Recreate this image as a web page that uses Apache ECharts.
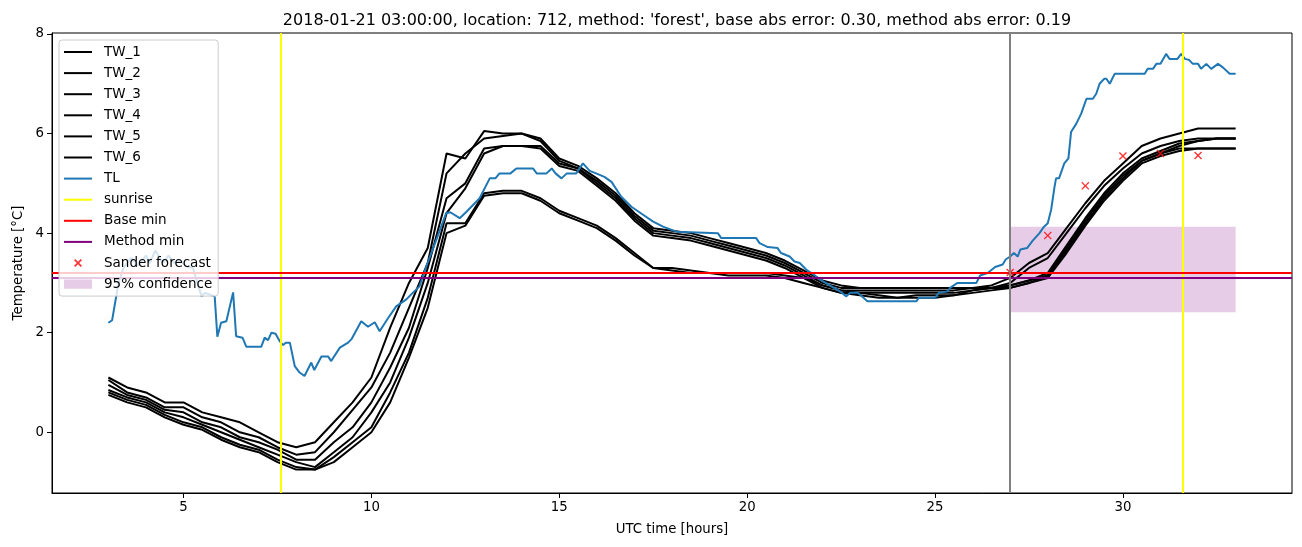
<!DOCTYPE html>
<html>
<head>
<meta charset="utf-8">
<script src="https://cdn.jsdelivr.net/npm/echarts@6/dist/echarts.min.js"></script>
<style>
html,body{margin:0;padding:0;background:#fff}
#container{width:1302px;height:547px}
</style>
</head>
<body>
<div id="container"></div>
<script>
// half-hourly TW values, 03:00 .. 33:00
var twHours = [];
for (var i = 0; i <= 60; i++) twHours.push(3 + i * 0.5);

var tw1 = [1.1,0.9,0.8,0.6,0.6,0.4,0.3,0.2,0.0,-0.2,
	-0.3,-0.2,0.2,0.6,1.1,2.1,3.0,3.7,5.6,5.5,
	6.05,6.0,6.0,5.9,5.5,5.35,5.1,4.8,4.4,4.1,
	4.05,4.0,3.9,3.8,3.7,3.6,3.45,3.25,3.05,2.95,
	2.9,2.9,2.9,2.9,2.9,2.9,2.9,2.95,3.1,3.4,
	3.6,4.1,4.6,5.05,5.4,5.75,5.9,6.0,6.1,6.1,
	6.1];
var tw2 = [1.05,0.8,0.7,0.5,0.5,0.3,0.2,0.0,-0.1,-0.3,
	-0.45,-0.4,0.0,0.45,0.9,1.6,2.5,3.4,5.2,5.6,
	5.9,5.95,6.0,5.85,5.45,5.3,5.05,4.75,4.35,4.05,
	4.0,3.95,3.85,3.75,3.65,3.55,3.4,3.2,3.0,2.9,
	2.9,2.9,2.9,2.9,2.9,2.9,2.9,2.9,3.0,3.3,
	3.5,4.0,4.5,4.95,5.3,5.6,5.75,5.85,5.9,5.9,
	5.9];
var tw3 = [0.95,0.75,0.65,0.45,0.4,0.2,0.1,-0.1,-0.2,-0.35,
	-0.55,-0.55,-0.2,0.1,0.6,1.3,2.1,3.3,4.7,5.0,
	5.7,5.75,5.75,5.75,5.4,5.3,5.0,4.7,4.3,4.0,
	3.95,3.9,3.8,3.7,3.6,3.5,3.35,3.15,2.95,2.85,
	2.85,2.85,2.85,2.85,2.85,2.85,2.9,2.9,2.95,3.05,
	3.2,3.75,4.3,4.8,5.2,5.5,5.65,5.8,5.85,5.9,
	5.9];
var tw4 = [0.85,0.7,0.6,0.4,0.3,0.15,0.0,-0.15,-0.3,-0.45,
	-0.6,-0.7,-0.4,-0.1,0.4,1.0,1.9,3.0,4.4,4.9,
	5.6,5.75,5.75,5.7,5.35,5.25,4.95,4.65,4.25,3.95,
	3.9,3.85,3.75,3.65,3.55,3.45,3.3,3.1,2.9,2.8,
	2.8,2.8,2.8,2.8,2.8,2.8,2.85,2.9,2.9,3.0,
	3.15,3.65,4.2,4.7,5.1,5.45,5.6,5.7,5.7,5.7,
	5.7];
var tw5 = [0.8,0.65,0.55,0.35,0.2,0.1,-0.1,-0.25,-0.35,-0.55,
	-0.7,-0.75,-0.5,-0.2,0.1,0.8,1.6,2.7,4.2,4.2,
	4.8,4.85,4.85,4.7,4.45,4.3,4.15,3.9,3.6,3.3,
	3.3,3.25,3.2,3.2,3.2,3.2,3.15,3.1,2.95,2.85,
	2.8,2.75,2.7,2.75,2.75,2.75,2.85,2.9,2.95,3.05,
	3.15,3.7,4.25,4.75,5.15,5.45,5.6,5.75,5.85,5.9,
	5.9];
var tw6 = [0.75,0.6,0.5,0.3,0.15,0.05,-0.15,-0.3,-0.4,-0.6,
	-0.75,-0.75,-0.6,-0.3,0.0,0.6,1.5,2.5,4.0,4.15,
	4.75,4.8,4.8,4.65,4.4,4.25,4.1,3.85,3.55,3.3,
	3.25,3.2,3.2,3.15,3.15,3.15,3.1,3.0,2.9,2.8,
	2.75,2.7,2.7,2.7,2.7,2.75,2.8,2.85,2.9,3.0,
	3.1,3.6,4.15,4.65,5.05,5.4,5.55,5.65,5.7,5.7,
	5.7];

var tlHours = [3.0,3.1,3.27,3.4,3.6,3.8,4.0,4.1,4.25,4.45,4.6,4.75,4.9,5.08,5.25,5.48,5.57,5.83,5.9,6.0,
	6.14,6.32,6.4,6.57,6.67,7.07,7.16,7.25,7.34,7.45,7.56,7.65,7.72,7.83,7.96,8.09,8.22,8.4,8.48,8.67,
	8.85,8.93,9.16,9.38,9.47,9.73,9.91,10.09,10.22,10.45,10.66,10.93,11.1,11.28,11.46,11.73,11.99,12.1,12.35,12.53,
	12.88,13.15,13.3,13.41,13.7,13.86,14.3,14.4,14.66,14.8,14.9,15.06,15.2,15.45,15.63,15.81,15.98,16.2,16.39,16.65,
	16.92,17.23,17.5,17.76,18.12,19.22,19.31,20.24,20.33,20.55,20.81,20.9,21.13,21.26,21.4,21.57,21.8,22.02,22.2,22.47,
	22.64,22.74,22.95,23.2,24.5,24.57,25.0,25.1,25.33,25.4,25.6,26.1,26.2,26.4,26.6,26.8,26.88,27.0,27.1,27.2,
	27.27,27.45,27.6,27.78,27.9,28.0,28.09,28.18,28.22,28.3,28.44,28.55,28.62,28.76,28.89,29.03,29.2,29.29,29.38,29.5,
	29.56,29.65,29.78,30.58,30.66,30.8,30.89,31.0,31.15,31.24,31.45,31.55,31.65,31.76,31.86,32.0,32.08,32.22,32.35,32.53,
	32.66,32.84,33.0];
var tlTemps = [2.2,2.25,3.0,3.3,3.5,3.35,3.55,3.4,3.65,3.4,3.55,3.4,3.45,3.33,3.3,2.73,2.8,2.73,1.92,2.2,
	2.23,2.81,1.93,1.9,1.72,1.72,1.9,1.85,2.0,1.98,1.83,1.75,1.8,1.8,1.33,1.2,1.13,1.4,1.25,1.52,
	1.52,1.43,1.7,1.8,1.87,2.23,2.12,2.21,2.03,2.3,2.53,2.67,2.8,2.93,3.33,3.87,4.4,4.42,4.3,4.43,
	4.7,5.1,5.1,5.2,5.2,5.3,5.3,5.2,5.2,5.3,5.2,5.1,5.2,5.2,5.4,5.25,5.2,5.13,5.03,4.73,
	4.53,4.37,4.23,4.13,4.03,4.0,3.9,3.9,3.8,3.72,3.7,3.6,3.53,3.43,3.4,3.27,3.15,3.03,2.95,2.83,
	2.73,2.8,2.8,2.63,2.63,2.7,2.7,2.8,2.83,2.9,3.0,3.0,3.15,3.2,3.32,3.37,3.47,3.53,3.6,3.53,
	3.67,3.7,3.85,4.0,4.13,4.2,4.47,4.93,5.1,5.1,5.4,5.5,6.03,6.2,6.4,6.7,6.7,6.8,7.0,7.1,
	7.1,7.0,7.2,7.2,7.3,7.3,7.4,7.4,7.6,7.5,7.5,7.6,7.5,7.48,7.4,7.4,7.3,7.4,7.3,7.4,
	7.33,7.2,7.2];

var sunriseHours = [7.58, 31.58];
var forecastStart = 27;
var baseMin = 3.2;
var methodMin = 3.1;
var sanderHours = [27, 28, 29, 30, 31, 32];
var sanderTemps = [3.21, 3.95, 4.95, 5.55, 5.6, 5.56];
var confHours = [27, 33];
var confTemps = [2.41, 4.13];
var xTicks = [5, 10, 15, 20, 25, 30];
var yTicks = [0, 2, 4, 6, 8];

var FONT = 'DejaVu Sans';
var CONF_COLOR = 'rgba(128,0,128,0.2)';
var X_PATH = 'path://M0,1.2 L1.2,0 L5,3.8 L8.8,0 L10,1.2 L6.2,5 L10,8.8 L8.8,10 L5,6.2 L1.2,10 L0,8.8 L3.8,5 Z';
var X_ICON = 'path://M0,0 L0.01,0 L0,0.01 Z M14,14 L13.99,14 L14,13.99 Z M3,4.2 L4.2,3 L7,5.8 L9.8,3 L11,4.2 L8.2,7 L11,9.8 L9.8,11 L7,8.2 L4.2,11 L3,9.8 L5.8,7 Z';
var RECT_ICON = 'path://M0,0 L28,0 L28,9.3 L0,9.3 Z';
var LINE_ICON = 'path://M0,0 L28,0 L28,2 L0,2 Z';

function pairs(xs, ys) {
	var out = [];
	for (var i = 0; i < xs.length; i++) out.push([xs[i], ys[i]]);
	return out;
}

function lineSeries(name, xs, ys, color) {
	return {
		name: name,
		type: 'line',
		data: pairs(xs, ys),
		symbol: 'none',
		color: color,
		lineStyle: {color: color, width: 2},
		emphasis: {disabled: true},
		z: 2
	};
}

function refSeries(name, color, lines) {
	return {
		name: name,
		type: 'line',
		data: [],
		symbol: 'none',
		color: color,
		lineStyle: {color: color, width: 2},
		markLine: {
			silent: true,
			symbol: ['none', 'none'],
			label: {show: false},
			lineStyle: {color: color, width: 2, type: 'solid'},
			data: lines
		},
		z: 3
	};
}

var myChart = echarts.init(document.getElementById('container'));

var series = [
	lineSeries('TW_1', twHours, tw1, '#000000'),
	lineSeries('TW_2', twHours, tw2, '#000000'),
	lineSeries('TW_3', twHours, tw3, '#000000'),
	lineSeries('TW_4', twHours, tw4, '#000000'),
	lineSeries('TW_5', twHours, tw5, '#000000'),
	lineSeries('TW_6', twHours, tw6, '#000000'),
	lineSeries('TL', tlHours, tlTemps, '#1f77b4'),
	refSeries('sunrise', '#ffff00', sunriseHours.map(function (h) { return {xAxis: h}; })),
	refSeries('Base min', '#ff0000', [{yAxis: baseMin}]),
	refSeries('Method min', '#800080', [{yAxis: methodMin}]),
	refSeries('start', '#808080', [{xAxis: forecastStart}]),
	{
		name: 'Sander forecast',
		type: 'scatter',
		data: pairs(sanderHours, sanderTemps),
		symbol: X_PATH,
		symbolSize: 8,
		itemStyle: {color: '#ff0000'},
		emphasis: {disabled: true},
		z: 4
	},
	{
		name: '95% confidence',
		type: 'line',
		data: [],
		symbol: 'none',
		color: CONF_COLOR,
		itemStyle: {color: CONF_COLOR},
		markArea: {
			silent: true,
			itemStyle: {color: CONF_COLOR},
			data: [[{xAxis: confHours[0], yAxis: confTemps[0]}, {xAxis: confHours[1], yAxis: confTemps[1]}]]
		},
		z: 1
	}
];

var legendNames = ['TW_1', 'TW_2', 'TW_3', 'TW_4', 'TW_5', 'TW_6', 'TL', 'sunrise', 'Base min', 'Method min'];
var legendData = legendNames.map(function (n) { return {name: n, icon: LINE_ICON}; });
legendData.push({name: 'Sander forecast', icon: X_ICON});
legendData.push({name: '95% confidence', icon: RECT_ICON, itemStyle: {color: CONF_COLOR}});

var option = {
	animation: false,
	backgroundColor: '#ffffff',
	title: {
		text: "2018-01-21 03:00:00, location: 712, method: 'forest', base abs error: 0.30, method abs error: 0.19",
		left: 672,
		textAlign: 'center',
		top: 8,
		textStyle: {fontFamily: FONT, fontSize: 16, fontWeight: 'normal', color: '#000'}
	},
	legend: {
		z: 20,
		orient: 'vertical',
		left: 59,
		top: 40,
		padding: [5, 6, 5, 5],
		itemWidth: 28,
		itemHeight: 14,
		itemGap: 7.1,
		backgroundColor: 'rgba(255,255,255,0.8)',
		borderColor: '#cccccc',
		borderWidth: 1,
		borderRadius: 3,
		selectedMode: false,
		textStyle: {fontFamily: FONT, fontSize: 13.5, color: '#000', padding: [0, 0, 0, 7]},
		data: legendData
	},
	grid: {
		left: 52, right: 10, top: 33, bottom: 54,
		show: true, borderColor: '#000', borderWidth: 1, backgroundColor: 'transparent'
	},
	xAxis: {
		type: 'value',
		min: 1.5,
		max: 34.5,
		name: 'UTC time [hours]',
		nameLocation: 'middle',
		nameGap: 30,
		nameTextStyle: {fontFamily: FONT, fontSize: 13.3, color: '#000'},
		axisLine: {onZero: false, lineStyle: {color: '#000', width: 1}},
		axisTick: {customValues: xTicks, length: 5, lineStyle: {color: '#000'}},
		axisLabel: {customValues: xTicks, margin: 8, fontFamily: FONT, fontSize: 13.3, color: '#000'},
		splitLine: {show: false}
	},
	yAxis: {
		type: 'value',
		min: -1.22,
		max: 8.02,
		name: 'Temperature [°C]',
		nameLocation: 'middle',
		nameGap: 27,
		nameTextStyle: {fontFamily: FONT, fontSize: 13.3, color: '#000'},
		axisLine: {onZero: false, lineStyle: {color: '#000', width: 1}},
		axisTick: {customValues: yTicks, length: 5, lineStyle: {color: '#000'}},
		axisLabel: {customValues: yTicks, margin: 8, fontFamily: FONT, fontSize: 13.3, color: '#000'},
		splitLine: {show: false}
	},
	series: series
};

myChart.setOption(option, true);
</script>
</body>
</html>
